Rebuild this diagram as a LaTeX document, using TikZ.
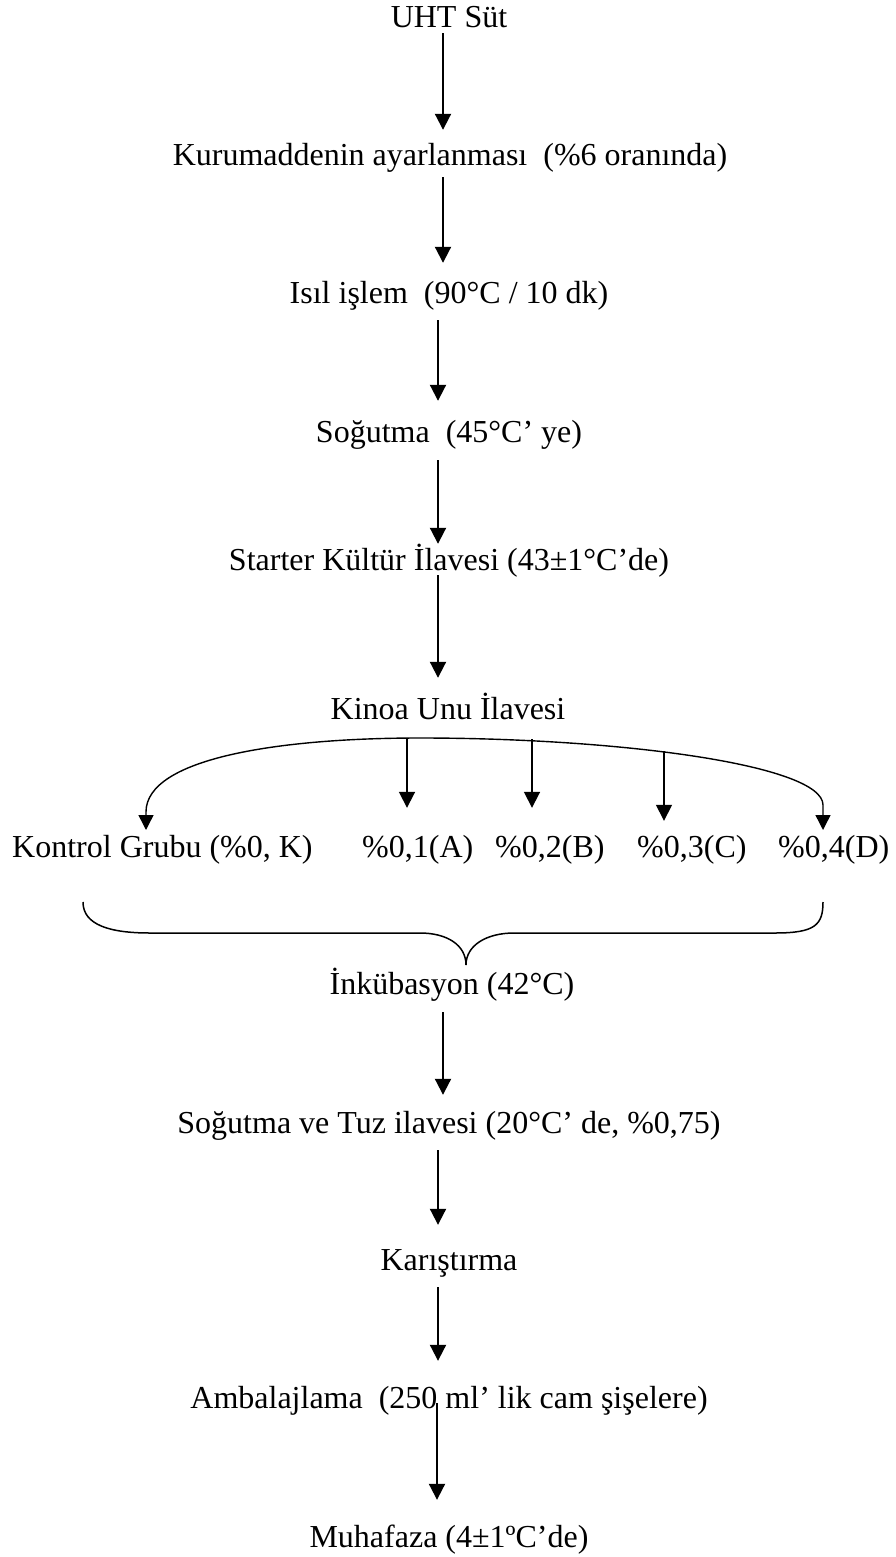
\documentclass[tikz,border=0pt]{standalone}
\usepackage{fontspec}
\setmainfont{Liberation Serif}
\usetikzlibrary{arrows.meta}
\begin{document}
\begin{tikzpicture}[x=1pt,y=-1pt,
  lbl/.style={inner sep=0pt, text height=21pt, text depth=7pt, font=\fontsize{32}{38}\selectfont},
  flow/.style={-{Triangle[length=16pt,width=16pt]}, line width=2pt},
  arc/.style={line width=1.4pt},
  brace/.style={line width=1.5pt}]
\useasboundingbox (0,0) rectangle (895,1557);

% column x positions
\coordinate (x443) at (443,0);
\coordinate (x438) at (438,0);
\coordinate (x437) at (437,0);

% main steps
\node[lbl,anchor=base] (uht) at (449,28) {UHT Süt};
\node[lbl,anchor=base] (kur) at (450,166) {Kurumaddenin ayarlanması\ \ (\%6 oranında)};
\node[lbl,anchor=base] (isil) at (449,303) {Isıl işlem\ \ (90°C / 10 dk)};
\node[lbl,anchor=base] (sog) at (449,442) {Soğutma\ \ (45°C’ ye)};
\node[lbl,anchor=base] (sta) at (449,570) {Starter Kültür İlavesi (43±1°C’de)};
\node[lbl,anchor=base] (kin) at (448,719) {Kinoa Unu İlavesi};

% groups
\node[lbl,anchor=base west] (gk) at (12,857) {Kontrol Grubu (\%0, K)};
\node[lbl,anchor=base west] (ga) at (362,857) {\%0,1(A)};
\node[lbl,anchor=base west] (gb) at (495,857) {\%0,2(B)};
\node[lbl,anchor=base west] (gc) at (637,857) {\%0,3(C)};
\node[lbl,anchor=base west] (gd) at (778,857) {\%0,4(D)};

\node[lbl,anchor=base] (ink) at (452,994) {İnkübasyon (42°C)};
\node[lbl,anchor=base] (tuz) at (449,1133) {Soğutma ve Tuz ilavesi (20°C’ de, \%0,75)};
\node[lbl,anchor=base] (kar) at (449,1270) {Karıştırma};
\node[lbl,anchor=base] (amb) at (449,1408) {Ambalajlama\ \ (250 ml’ lik cam şişelere)};
\node[lbl,anchor=base] (muh) at (449,1547) {Muhafaza (4±1ºC’de)};

% vertical arrows
\draw[flow, shorten <=-2pt, shorten >=15pt] (uht.south -| x443) -- (kur.north -| x443);
\draw[flow, shorten <=4pt,  shorten >=19pt] (kur.south -| x443) -- (isil.north -| x443);
\draw[flow, shorten <=10pt, shorten >=20pt] (isil.south -| x438) -- (sog.north -| x438);
\draw[flow, shorten <=11pt, shorten >=5pt]  (sog.south -| x438) -- (sta.north -| x438);
\draw[flow, shorten <=-2pt, shorten >=20pt] (sta.south -| x438) -- (kin.north -| x438);
\draw[flow, shorten <=11pt, shorten >=17pt] (ink.south -| x443) -- (tuz.north -| x443);
\draw[flow, shorten <=10pt, shorten >=24pt] (tuz.south -| x438) -- (kar.north -| x438);
\draw[flow, shorten <=10pt, shorten >=26pt] (kar.south -| x438) -- (amb.north -| x438);
\draw[flow, shorten <=-12pt, shorten >=26pt] (amb.south -| x437) -- (muh.north -| x437);

% distribution arc
\coordinate (kTip) at (146,830);
\coordinate (dTip) at (823,830);
\coordinate (cA) at (407,738);
\coordinate (cB) at (532,739);
\coordinate (cC) at (664,751);
\draw[arc, {Triangle[length=15pt,width=15pt]}-{Triangle[length=15pt,width=15pt]}]
  (kTip) -- (146,812) .. controls (146,758) and (280,738) .. (420,738)
  .. controls (620,738) and (823,765) .. (823,805) -- (dTip);
\draw[flow, line width=1.8pt, shorten >=28pt] (cA) -- (ga.north -| cA);
\draw[flow, line width=1.8pt, shorten >=28pt] (cB) -- (gb.north -| cB);
\draw[flow, line width=1.5pt, shorten >=15pt] (cC) -- (gc.north -| cC);

% brace
\draw[brace] (83,902) .. controls (83,925) and (110,933) .. (150,933) -- (420,933)
  .. controls (447,933) and (466,945) .. (466,965)
  .. controls (466,945) and (487,933) .. (514,933) -- (775,933)
  .. controls (815,933) and (823,925) .. (823,902);
\end{tikzpicture}
\end{document}
